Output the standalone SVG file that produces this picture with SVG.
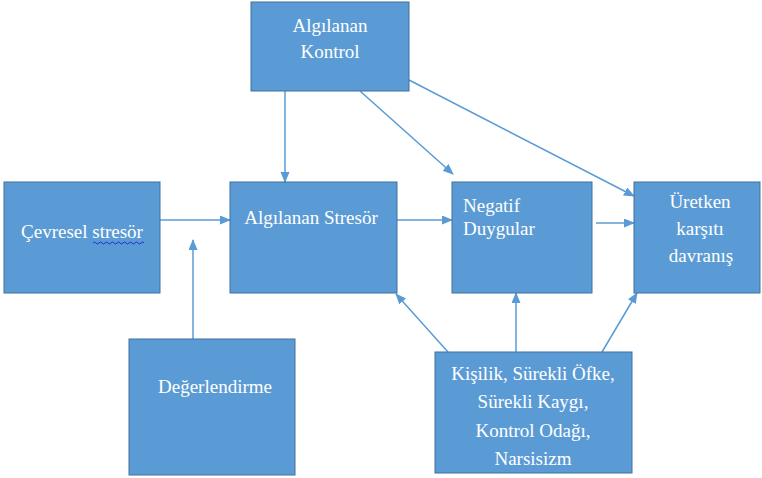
<svg xmlns="http://www.w3.org/2000/svg" width="762" height="478" viewBox="0 0 762 478">
<style>
.box{fill:#5B9BD5;stroke:#41719C;stroke-width:1}
.t{fill:#ffffff;font-size:19px}
.c{text-anchor:middle}
.ln{stroke:#5B9BD5;stroke-width:1.5;fill:none;marker-end:url(#ah)}
</style>
<defs>
<marker id="ah" markerUnits="userSpaceOnUse" markerWidth="11" markerHeight="10" refX="10" refY="4.5" orient="auto">
<path d="M0,0 L11,4.5 L0,9 z" fill="#5B9BD5"/>
</marker>
</defs>
<rect width="762" height="478" fill="#ffffff"/>
<g id="connectors">
<path class="ln" d="M160,220 H230"/>
<path class="ln" d="M193,339 V240"/>
<path class="ln" d="M397,220 H452"/>
<path class="ln" d="M596,223 H634"/>
<path class="ln" d="M285,91 V182"/>
<path class="ln" d="M360,91 L453,174"/>
<path class="ln" d="M409,80 L634,196"/>
<path class="ln" d="M448,352 L396,294"/>
<path class="ln" d="M516,352 V293"/>
<path class="ln" d="M602,352 L637,293"/>
</g>
<g font-family="'Liberation Serif', 'Times New Roman', Times, 'DejaVu Serif', serif">
<g id="cevresel">
<rect class="box" x="4" y="182" width="156" height="111"/>
<text class="t c" x="82" y="238">Çevresel stresör</text>
<path d="M93,243 q1.5,-2 3,0 t3,0 t3,0 t3,0 t3,0 t3,0 t3,0 t3,0 t3,0 t3,0 t3,0 t3,0 t3,0 t3,0 t3,0 t3,0 t3,0" fill="none" stroke="#2b2bd6" stroke-width="1"/>
</g>
<g id="algilanan-stresor">
<rect class="box" x="230" y="182" width="167" height="111"/>
<text class="t c" x="311" y="224">Algılanan Stresör</text>
</g>
<g id="negatif">
<rect class="box" x="452" y="182" width="140" height="111"/>
<text class="t" x="463" y="212">Negatif</text>
<text class="t" x="463" y="235">Duygular</text>
</g>
<g id="uretken">
<rect class="box" x="634" y="182" width="126" height="111"/>
<text class="t c" x="700" y="208">Üretken</text>
<text class="t c" x="700" y="235">karşıtı</text>
<text class="t c" x="701" y="262">davranış</text>
</g>
<g id="algilanan-kontrol">
<rect class="box" x="251" y="2" width="158" height="89"/>
<text class="t c" x="330" y="32">Algılanan</text>
<text class="t c" x="330" y="58">Kontrol</text>
</g>
<g id="degerlendirme">
<rect class="box" x="129" y="339" width="166" height="136"/>
<text class="t c" x="215" y="393">Değerlendirme</text>
</g>
<g id="kisilik">
<rect class="box" x="435" y="352" width="197" height="121"/>
<text class="t c" x="533" y="380">Kişilik, Sürekli Öfke,</text>
<text class="t c" x="533" y="408">Sürekli Kaygı,</text>
<text class="t c" x="533" y="437">Kontrol Odağı,</text>
<text class="t c" x="533" y="465">Narsisizm</text>
</g>
</g>
</svg>
